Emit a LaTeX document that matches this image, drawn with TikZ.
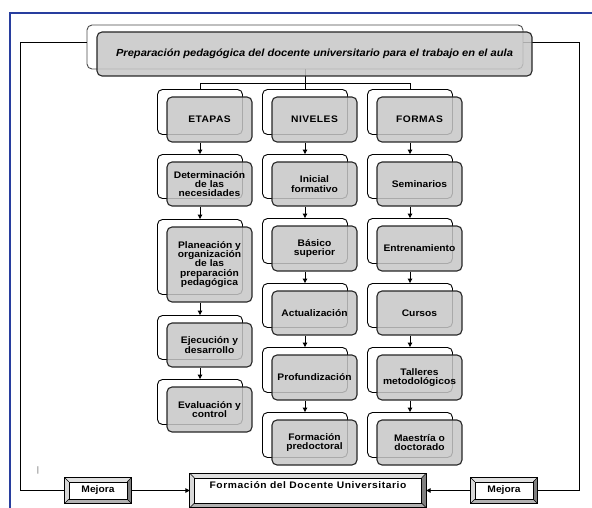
\documentclass[tikz,border=0pt]{standalone}
\usepackage{fontspec}
\setmainfont{Liberation Sans}[FakeStretch=1.08]
\usetikzlibrary{arrows.meta}
\pgfdeclarelayer{back}\pgfdeclarelayer{mid}
\pgfsetlayers{back,mid,main}
\definecolor{frameblue}{RGB}{40,62,158}
\newcommand\boxfont{\bfseries\fontsize{9.5}{9.3}\selectfont}
\tikzset{
  backbox/.style={draw=black, line width=0.9pt, rounded corners=5pt, fill=white,
    minimum width=85pt, inner sep=0pt},
  frontbox/.style={draw=black!85, line width=1.1pt, rounded corners=5pt, fill=black!22,
    fill opacity=0.85, text opacity=1, minimum width=85pt, inner sep=0pt,
    align=center, font=\boxfont},
  conn/.style={line width=1pt, draw=black},
  arr/.style={conn, -{Triangle[length=4.5pt,width=4.5pt]}},
  bevelbox/.style={fill=white, inner sep=0pt, font=\boxfont},
  frameline/.style={draw=frameblue, line width=2pt},
}
% name, cx, cy, height, text
\newcommand\twobox[5]{%
  \begin{pgfonlayer}{back}
    \node[backbox, minimum height=#4pt] (#1b) at ({#2-9.5},{#3-7.5}) {};
  \end{pgfonlayer}
  \node[frontbox, minimum height=#4pt] (#1) at (#2,#3) {#5};}
% bevel frame around node #1 with inset #2
\newcommand\bevel[2]{%
  \fill[black!12] (#1.north west) -- (#1.north east) -- ([xshift=-#2,yshift=-#2]#1.north east)
     -- ([xshift=#2,yshift=-#2]#1.north west) -- cycle;
  \fill[black!15] (#1.north west) -- (#1.south west) -- ([xshift=#2,yshift=#2]#1.south west)
     -- ([xshift=#2,yshift=-#2]#1.north west) -- cycle;
  \fill[black!30] (#1.south west) -- (#1.south east) -- ([xshift=-#2,yshift=#2]#1.south east)
     -- ([xshift=#2,yshift=#2]#1.south west) -- cycle;
  \fill[black!50] (#1.north east) -- (#1.south east) -- ([xshift=-#2,yshift=#2]#1.south east)
     -- ([xshift=-#2,yshift=-#2]#1.north east) -- cycle;
  \draw[line width=0.6pt] ([xshift=#2,yshift=-#2]#1.north west) rectangle ([xshift=-#2,yshift=#2]#1.south east);
  \draw[line width=0.5pt] (#1.north west) -- ([xshift=#2,yshift=-#2]#1.north west)
     (#1.north east) -- ([xshift=-#2,yshift=-#2]#1.north east)
     (#1.south west) -- ([xshift=#2,yshift=#2]#1.south west)
     (#1.south east) -- ([xshift=-#2,yshift=#2]#1.south east);
  \draw[line width=1pt] (#1.north west) rectangle (#1.south east);}
\begin{document}
\begin{tikzpicture}[x=1pt,y=-1pt]
\useasboundingbox (0,0) rectangle (592,508);
% blue frame
\draw[frameline] (9.5,508) -- (9.5,13.5) -- (592,13.5);

% title
\begin{pgfonlayer}{back}
  \node[backbox, draw=black!70, minimum width=436pt, minimum height=44pt] (titleb) at (305,47) {};
\end{pgfonlayer}
\node[frontbox, minimum width=435pt, minimum height=44pt,
      font=\bfseries\itshape\fontsize{10.3}{11}\selectfont] (title) at (314.5,54)
      {Preparación pedagógica del docente universitario para el trabajo en el aula};

% column ETAPAS
\twobox{e0}{209.5}{119.5}{45}{{\addfontfeature{LetterSpace=5}ETAPAS}}
\twobox{e1}{209.5}{184}{44}{Determinación\\de las\\necesidades}
\twobox{e2}{209.5}{264.5}{75}{Planeación y\\organización\\de las\\preparación\\pedagógica}
\twobox{e3}{209.5}{345}{44}{Ejecución y\\desarrollo}
\twobox{e4}{209.5}{409.5}{45}{Evaluación y\\control}
% column NIVELES
\twobox{n0}{314.5}{119.5}{45}{{\addfontfeature{LetterSpace=5}NIVELES}}
\twobox{n1}{314.5}{184}{44}{Inicial\\formativo}
\twobox{n2}{314.5}{248.5}{45}{Básico\\superior}
\twobox{n3}{314.5}{313}{44}{Actualización}
\twobox{n4}{314.5}{377.5}{45}{Profundización}
\twobox{n5}{314.5}{442.5}{45}{Formación\\predoctoral}
% column FORMAS
\twobox{f0}{419.5}{119.5}{45}{{\addfontfeature{LetterSpace=5}FORMAS}}
\twobox{f1}{419.5}{184}{44}{Seminarios}
\twobox{f2}{419.5}{248.5}{45}{Entrenamiento}
\twobox{f3}{419.5}{313}{44}{Cursos}
\twobox{f4}{419.5}{377.5}{45}{Talleres\\metodológicos}
\twobox{f5}{419.5}{442.5}{45}{Maestría o\\doctorado}

% bottom boxes
\node[bevelbox, minimum width=236pt, minimum height=34pt, text height=7pt, text depth=12pt] (fdu) at (308,490.5)
  {\addfontfeature{LetterSpace=6}Formación del Docente Universitario};
\bevel{fdu}{4.5pt}
\node[bevelbox, minimum width=66pt, minimum height=25pt] (mejL) at (98,490.5) {Mejora};
\bevel{mejL}{4pt}
\node[bevelbox, minimum width=66pt, minimum height=25pt] (mejR) at (504,490.5) {Mejora};
\bevel{mejR}{4pt}

\node[font=\fontsize{8}{8}\selectfont, text=black!60, inner sep=0pt] (mark) at (38,470) {|};

% connectors
\coordinate (bar) at (305,83.5);
\coordinate (fbl) at (20.5,43);
\coordinate (fbr) at (579,43);
\begin{pgfonlayer}{mid}
  \draw[conn] (titleb.south) -- (bar);
  \draw[conn] (e0b.north) |- (bar) -| (f0b.north);
  \draw[conn] (bar) -- (n0b.north);
  \draw[conn] (titleb.west |- fbl) -- (fbl) |- (mejL.west);
  \draw[conn] (titleb.east |- fbr) -- (fbr) |- (mejR.east);
  \foreach \c/\n in {e/3, n/4, f/4}{
    \foreach \i [evaluate=\i as \j using int(\i+1)] in {0,...,\n}{
      \draw[arr] (\c\i.south -| \c\i b.north) -- (\c\j b.north);
    }
  }
\end{pgfonlayer}
\draw[arr] (mejL.east) -- (fdu.west |- mejL.east);
\draw[arr] (mejR.west) -- (fdu.east |- mejR.west);
\end{tikzpicture}
\end{document}
